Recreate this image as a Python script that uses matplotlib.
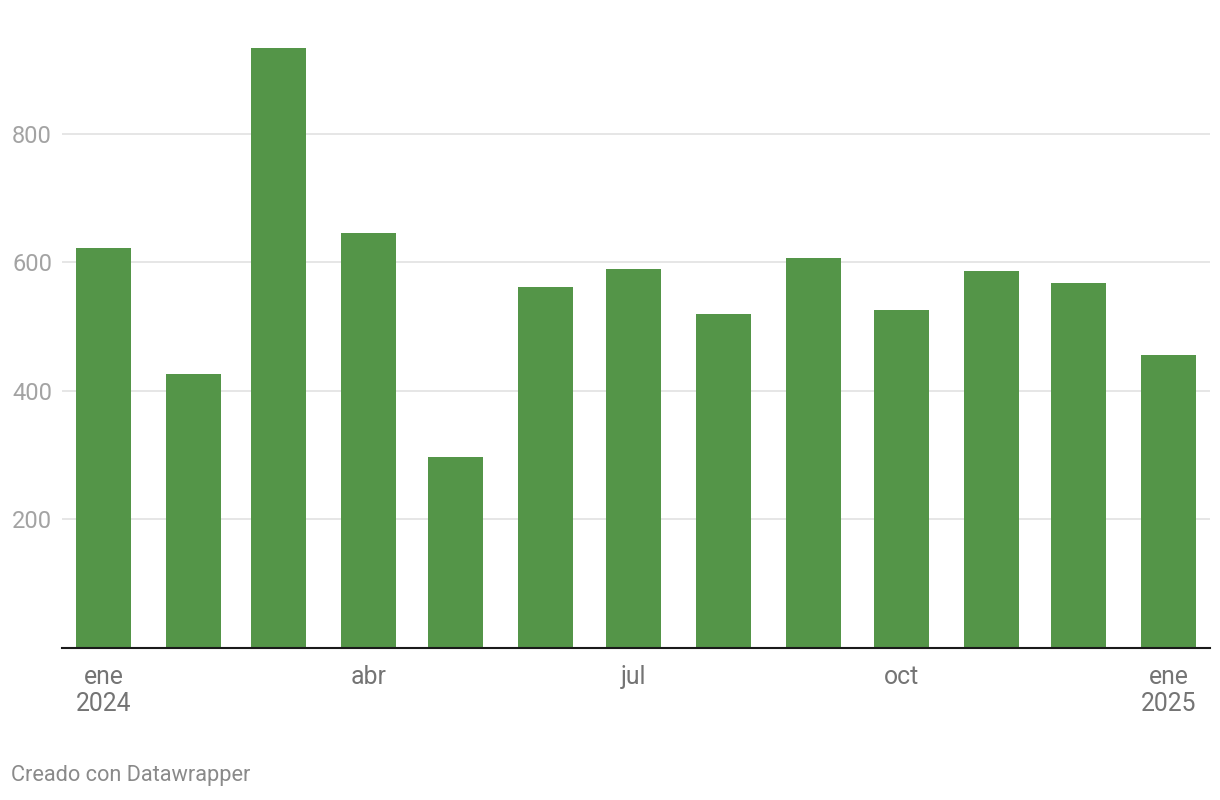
import matplotlib
matplotlib.use("Agg")
import matplotlib.pyplot as plt
import matplotlib.dates as mdates
from datetime import date

plt.rcParams['font.family'] = ['Roboto', 'DejaVu Sans']

# monthly values, ene 2024 - ene 2025
months = [date(2024, m, 1) for m in range(1, 13)] + [date(2025, 1, 1)]
values = [623, 426, 934, 646, 297, 562, 590, 520, 607, 526, 587, 568, 456]

tick_dates = [date(2024, 1, 1), date(2024, 4, 1), date(2024, 7, 1),
              date(2024, 10, 1), date(2025, 1, 1)]
tick_labels = ["ene\n2024", "abr", "jul", "oct", "ene\n2025"]
y_ticks = [200, 400, 600, 800]

green = "#549548"

fig = plt.figure(figsize=(12.2, 8), dpi=100)
ax = fig.add_axes([62 / 1220, 1 - 648 / 800, (1210 - 62) / 1220, (648 - 31) / 800])

x = mdates.date2num(months)
ax.bar(x, values, width=18.9, color=green, zorder=2)

ax.set_xlim(mdates.date2num(date(2024, 1, 1)) - 14.25,
            mdates.date2num(date(2025, 1, 1)) + 14.1)
ax.set_ylim(0, 960)

ax.set_yticks(y_ticks)
ax.set_yticklabels([str(v) for v in y_ticks])
ax.grid(axis='y', color='#e4e4e4', linewidth=1.3, zorder=0)
ax.tick_params(axis='y', length=0, pad=36, labelsize=17, labelcolor='#a3a3a3')
for lab in ax.get_yticklabels():
    lab.set_horizontalalignment('left')

ax.set_xticks(mdates.date2num(tick_dates))
ax.set_xticklabels(tick_labels, linespacing=1.2)
ax.tick_params(axis='x', length=0, pad=12, labelsize=17.8, labelcolor='#747474')

for s in ['top', 'right', 'left']:
    ax.spines[s].set_visible(False)
ax.spines['bottom'].set_color('#1a1a1a')
ax.spines['bottom'].set_linewidth(1.5)
ax.spines['bottom'].set_zorder(3)

fig.text(11 / 1220, 1 - 776 / 800, "Creado con Datawrapper", fontsize=15.7,
         color='#8a8a8a', ha='left', va='center')

fig.savefig("out.png", dpi=100)
